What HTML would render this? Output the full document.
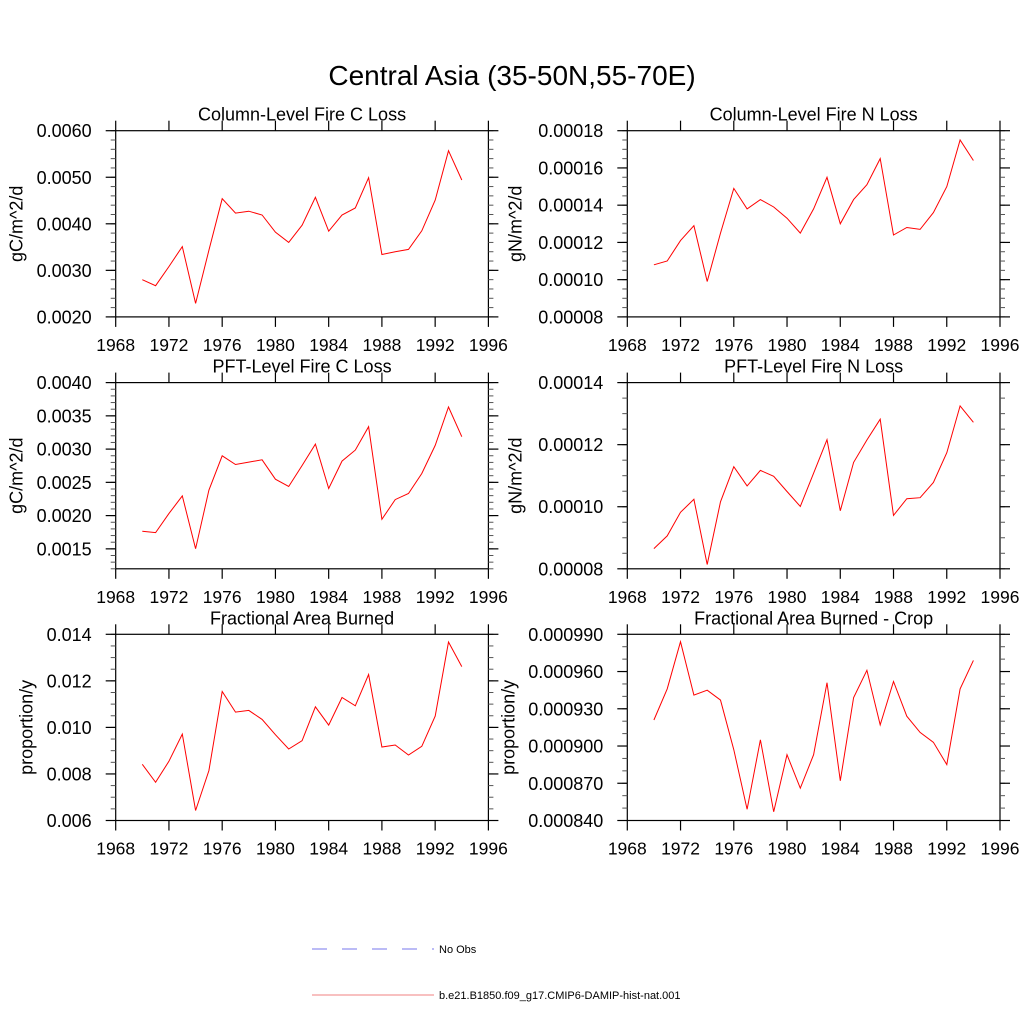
<!DOCTYPE html>
<html><head><meta charset="utf-8">
<style>
html,body{margin:0;padding:0;background:#fff;}
svg{display:block;font-family:"Liberation Sans",sans-serif;}
</style></head>
<body>
<svg id="chart" width="1024" height="1024" viewBox="0 0 1024 1024" xmlns="http://www.w3.org/2000/svg">
<text x="512" y="85" font-size="28" text-anchor="middle">Central Asia (35-50N,55-70E)</text>
<g>
<line x1="312" y1="949" x2="434" y2="949" stroke="#7777ee" stroke-width="1" stroke-dasharray="15,15"/>
<text x="439" y="953" font-size="11">No Obs</text>
<line x1="312" y1="995" x2="434" y2="995" stroke="#f08080" stroke-width="1"/>
<text x="439" y="999" font-size="11">b.e21.B1850.f09_g17.CMIP6-DAMIP-hist-nat.001</text>
</g>
</svg>
<script>
const years = [1970,1971,1972,1973,1974,1975,1976,1977,1978,1979,1980,1981,1982,1983,1984,1985,1986,1987,1988,1989,1990,1991,1992,1993,1994];
const xTicks = [1968,1972,1976,1980,1984,1988,1992,1996];
const colC = [0.00280,0.00267,0.00308,0.00351,0.00229,0.00343,0.00454,0.00423,0.00427,0.00419,0.00382,0.00360,0.00397,0.00457,0.00384,0.00419,0.00434,0.00499,0.00334,0.00340,0.00345,0.00385,0.00451,0.00557,0.00494];
const colN = [0.000108,0.000110,0.000121,0.000129,0.000099,0.000125,0.000149,0.000138,0.000143,0.000139,0.000133,0.000125,0.000138,0.000155,0.000130,0.000143,0.000151,0.000165,0.000124,0.000128,0.000127,0.000136,0.000150,0.000175,0.000164];
const pftC = [0.001764,0.001744,0.00203,0.002296,0.001503,0.002382,0.0029,0.002769,0.002804,0.002839,0.002548,0.002437,0.002754,0.003075,0.002407,0.002819,0.002985,0.003337,0.001945,0.002241,0.002332,0.002633,0.003055,0.003633,0.003186];
const pftN = [0.0000865,0.0000906,0.0000982,0.0001024,0.0000814,0.0001016,0.0001129,0.0001067,0.0001117,0.0001098,0.0001049,0.0001001,0.0001108,0.0001216,0.0000987,0.0001143,0.0001215,0.0001282,0.0000972,0.0001026,0.0001029,0.0001078,0.0001174,0.0001325,0.0001272];
const farea = [0.008414,0.007643,0.008543,0.009714,0.006429,0.008143,0.011543,0.010657,0.010729,0.010343,0.009686,0.009071,0.009429,0.010886,0.0101,0.011286,0.010929,0.012271,0.009157,0.009243,0.008814,0.009186,0.010486,0.013671,0.012614];
const fcrop = [0.000921,0.000946,0.000984,0.000941,0.000945,0.000937,0.000897,0.000849,0.000905,0.000847,0.000893,0.000866,0.000893,0.000951,0.000872,0.000939,0.000961,0.000917,0.000952,0.000924,0.000911,0.000903,0.000885,0.000946,0.000969];
const colCTicks = ["0.0020","0.0030","0.0040","0.0050","0.0060"];
const colNTicks = ["0.00008","0.00010","0.00012","0.00014","0.00016","0.00018"];
const pftCTicks = ["0.0015","0.0020","0.0025","0.0030","0.0035","0.0040"];
const pftNTicks = ["0.00008","0.00010","0.00012","0.00014"];
const fareaTicks = ["0.006","0.008","0.010","0.012","0.014"];
const fcropTicks = ["0.000840","0.000870","0.000900","0.000930","0.000960","0.000990"];

const NS="http://www.w3.org/2000/svg";
const svg=document.getElementById('chart');
function mk(tag,attrs,parent){const e=document.createElementNS(NS,tag);for(const k in attrs)e.setAttribute(k,attrs[k]);parent.appendChild(e);return e;}

const panels=[
 {id:'column-fire-c',title:'Column-Level Fire C Loss',ylab:'gC/m^2/d',vals:colC,ticks:colCTicks,ymin:0.002,ymax:0.006,minor:0.0002,x0:115.7,y0:130.7,yl:99},
 {id:'column-fire-n',title:'Column-Level Fire N Loss',ylab:'gN/m^2/d',vals:colN,ticks:colNTicks,ymin:0.00008,ymax:0.00018,minor:0.000005,x0:627.3,y0:130.7,yl:112},
 {id:'pft-fire-c',title:'PFT-Level Fire C Loss',ylab:'gC/m^2/d',vals:pftC,ticks:pftCTicks,ymin:0.0012,ymax:0.0040,minor:0.0001,x0:115.7,y0:382.6,yl:99},
 {id:'pft-fire-n',title:'PFT-Level Fire N Loss',ylab:'gN/m^2/d',vals:pftN,ticks:pftNTicks,ymin:0.00008,ymax:0.00014,minor:0.000005,x0:627.3,y0:382.6,yl:112},
 {id:'fractional-area-burned',title:'Fractional Area Burned',ylab:'proportion/y',vals:farea,ticks:fareaTicks,ymin:0.006,ymax:0.014,minor:0.0005,x0:115.7,y0:634.3,yl:89},
 {id:'fractional-area-burned-crop',title:'Fractional Area Burned - Crop',ylab:'proportion/y',vals:fcrop,ticks:fcropTicks,ymin:0.00084,ymax:0.00099,minor:0.00001,x0:627.3,y0:634.3,yl:119}
];
const W=372.7,H=186.2;
panels.forEach(p=>{
  const g=mk('g',{},svg);
  
  
  const xs=v=>p.x0+(v-1968)/28*W;
  const ys=v=>p.y0+H-(v-p.ymin)/(p.ymax-p.ymin)*H;
  const L=p.x0,R=p.x0+W,T=p.y0,B=p.y0+H;
  const fr=mk('rect',{x:L,y:T,width:W,height:H,fill:'none',stroke:'#000','stroke-width':1.2},g);
  
  
  const nmin=Math.round((p.ymax-p.ymin)/p.minor);
  for(let i=0;i<=nmin;i++){const v=p.ymin+i*p.minor;const y=ys(v);
    mk('line',{x1:L-5,x2:L,y1:y,y2:y,stroke:'#555','stroke-width':1},g);
    mk('line',{x1:R,x2:R+5,y1:y,y2:y,stroke:'#555','stroke-width':1},g);}
  p.ticks.forEach(t=>{const y=ys(parseFloat(t));
    mk('line',{x1:L-10,x2:L,y1:y,y2:y,stroke:'#000','stroke-width':1.2},g);
    mk('line',{x1:R,x2:R+10,y1:y,y2:y,stroke:'#000','stroke-width':1.2},g);
    const tx=mk('text',{x:L-24,y:y+6.5,'font-size':18,'text-anchor':'end'},g);tx.textContent=t;
    
    
  });
  xTicks.forEach(t=>{const x=xs(t);
    mk('line',{x1:x,x2:x,y1:B,y2:B+10,stroke:'#000','stroke-width':1.2},g);
    mk('line',{x1:x,x2:x,y1:T-10,y2:T,stroke:'#000','stroke-width':1.2},g);
    const tx=mk('text',{x:x,y:B+34,'font-size':17.5,'text-anchor':'middle'},g);tx.textContent=t;
    
    
  });
  const tt=mk('text',{x:L+W/2,y:T-10,'font-size':18,'text-anchor':'middle'},g);tt.textContent=p.title;
  
  
  const yl=mk('text',{x:0,y:0,'font-size':18,'text-anchor':'middle',transform:`translate(${L-p.yl+6},${T+H/2}) rotate(-90)`},g);yl.textContent=p.ylab;
  
  
  const pts=years.map((yr,i)=>xs(yr).toFixed(1)+','+ys(p.vals[i]).toFixed(1)).join(' ');
  const pl=mk('polyline',{points:pts,fill:'none',stroke:'#ff0000','stroke-width':1},g);
  
  
});
</script>
</body></html>
